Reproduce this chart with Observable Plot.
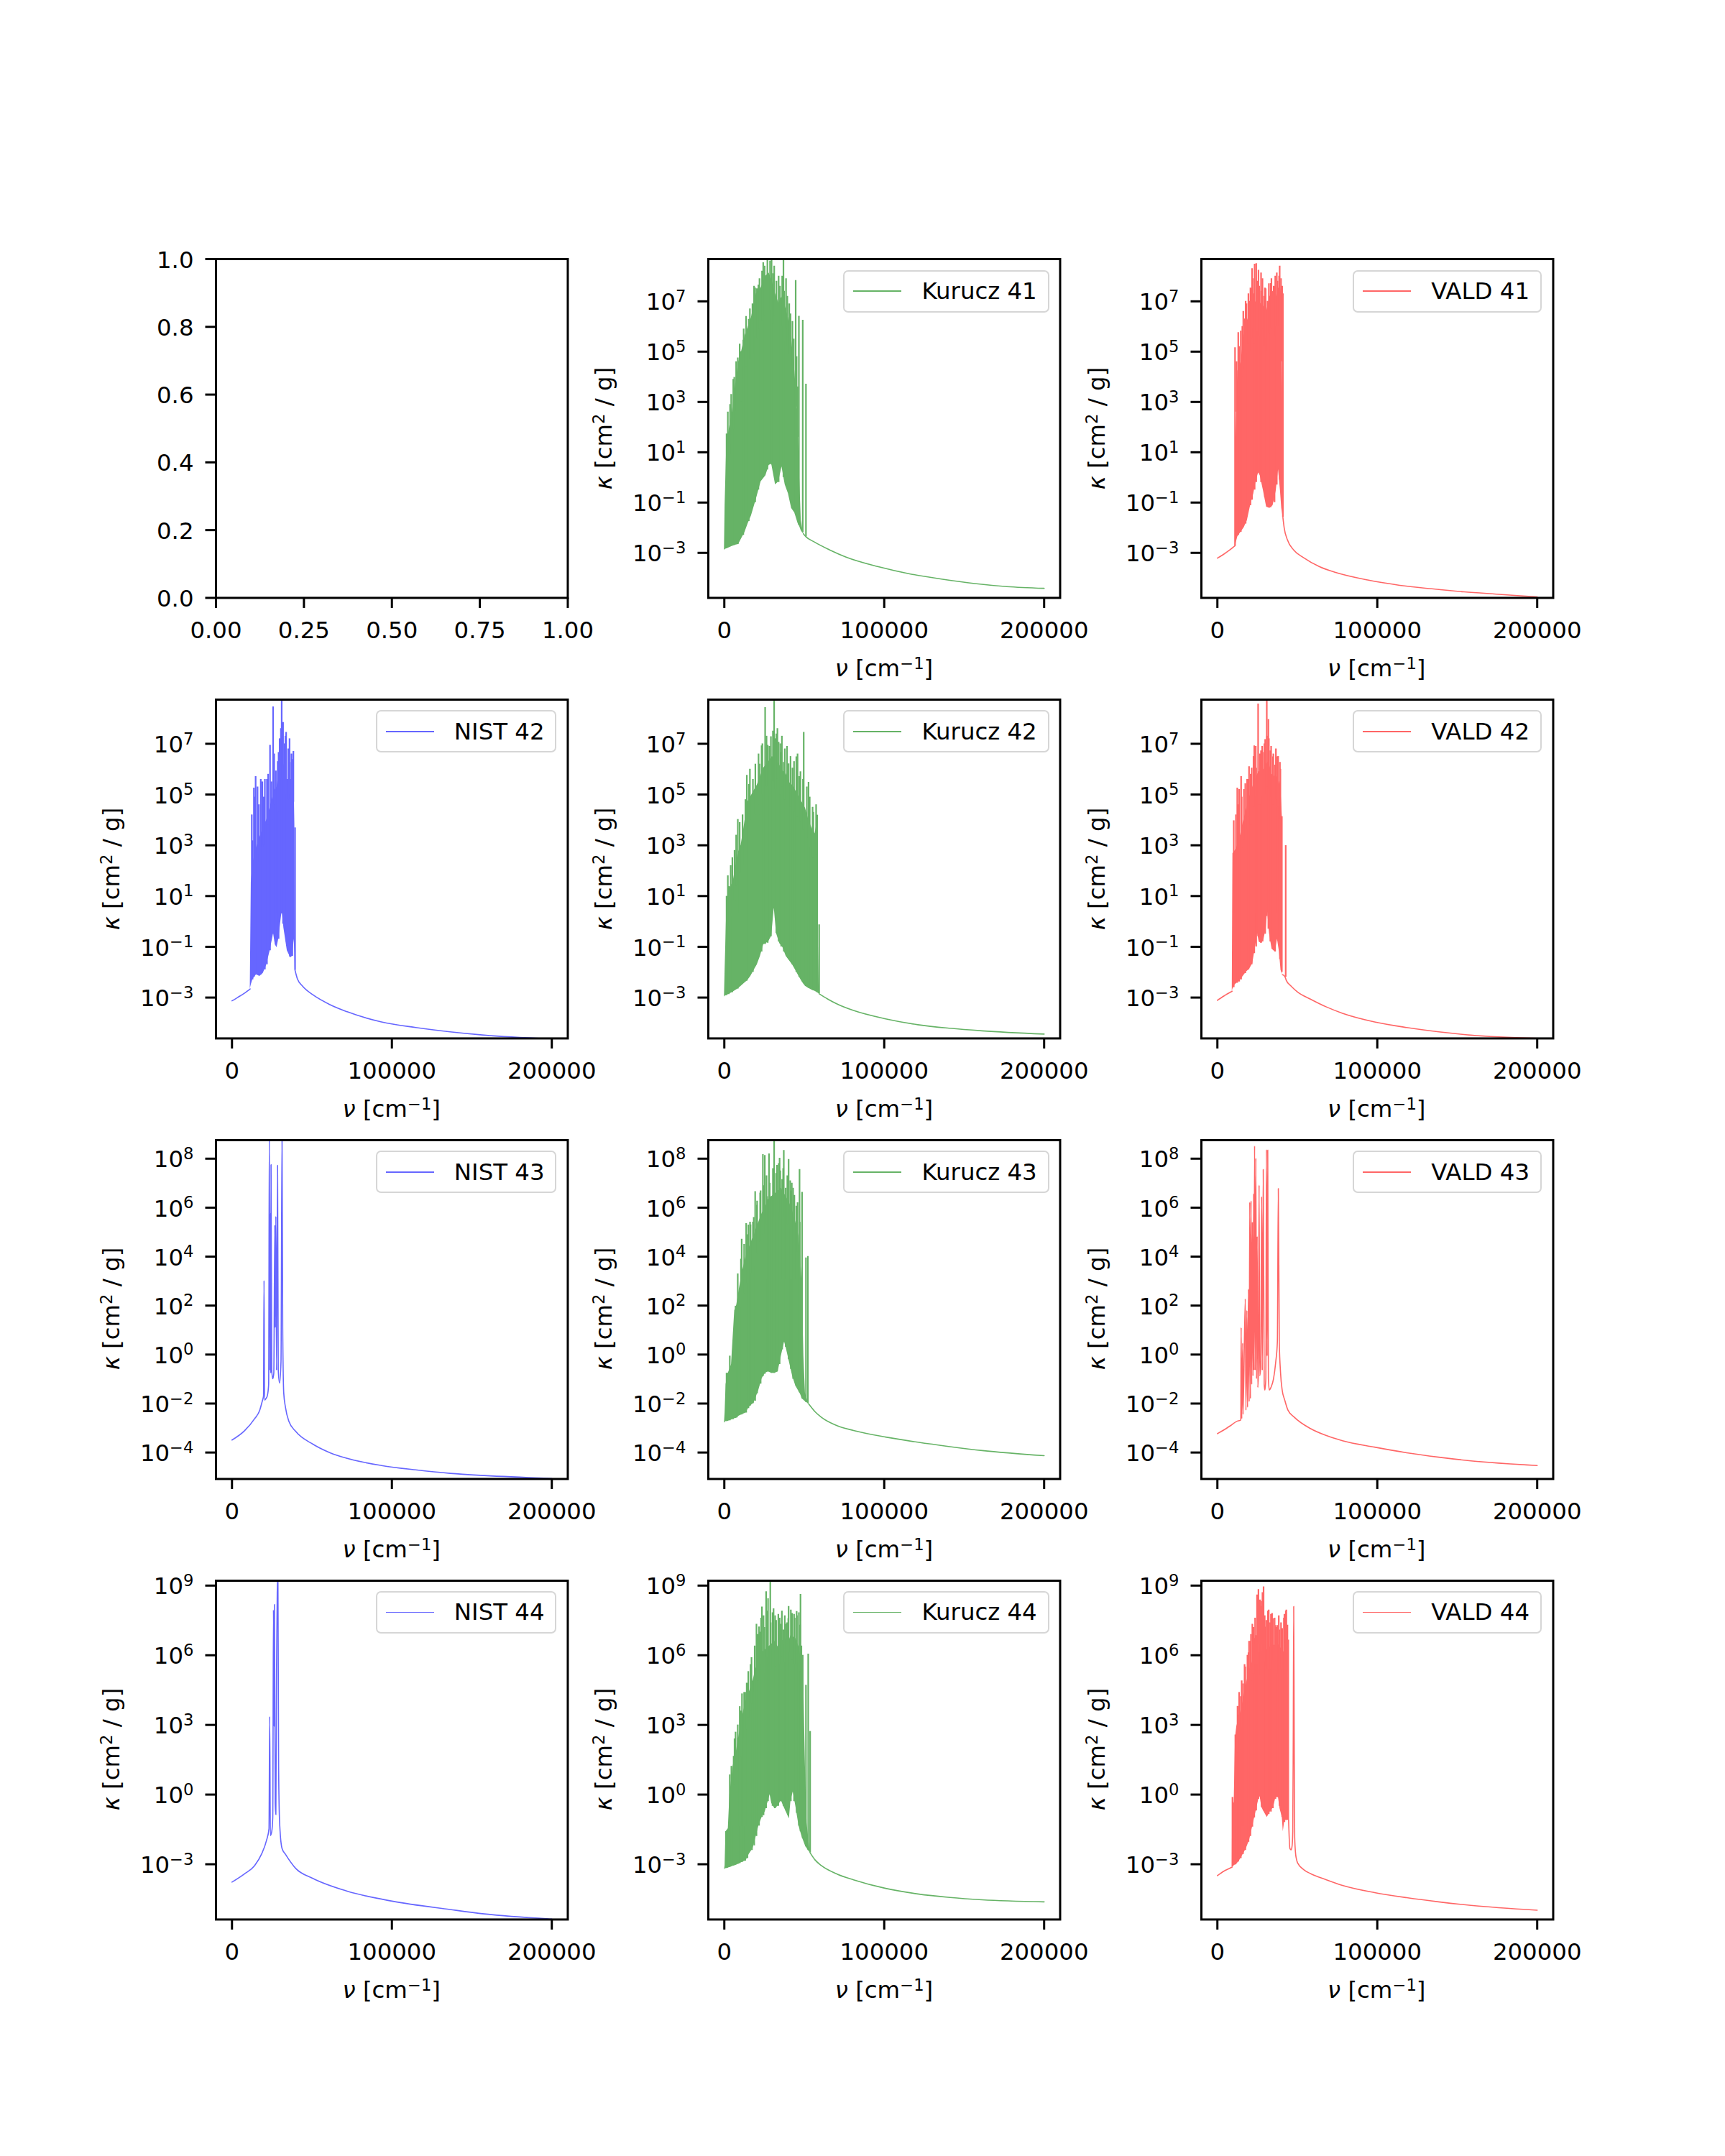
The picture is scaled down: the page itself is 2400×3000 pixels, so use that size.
<!DOCTYPE html>
<html><head><meta charset="utf-8">
<script src="https://cdn.jsdelivr.net/npm/d3@7"></script>
<script src="https://cdn.jsdelivr.net/npm/@observablehq/plot@0.6"></script>
<style>
html,body{margin:0;padding:0;background:#fff;}
#fig{position:relative;width:2400px;height:3000px;background:#fff;font-family:"DejaVu Sans";overflow:hidden;}
.lbl{position:absolute;white-space:nowrap;font-size:32.4px;line-height:1;color:#000;font-family:"DejaVu Sans";}
.lbl sup{font-size:70%;line-height:0;vertical-align:0.45em;}
.legend{position:absolute;box-sizing:border-box;height:59px;border:2.6px solid #d6d6d6;border-radius:7px;background:rgba(255,255,255,0.8);display:flex;align-items:center;padding:0 15px 0 12px;font-family:"DejaVu Sans";}
.legend .ln{width:67px;height:1.6px;margin-right:28px;}
.legend .tx{font-size:32.4px;line-height:1;color:#000;white-space:nowrap;}
</style></head>
<body><div id="fig"></div>
<script>
// ---------------- data (x in cm^-1, values are log10 of kappa in cm^2/g) ----------------
const xTicksNu = [0, 100000, 200000];
const emptyXTicks = [0, 0.25, 0.5, 0.75, 1];
const emptyYTicks = [0, 0.2, 0.4, 0.6, 0.8, 1];
const rowLogLimits = [[-4.79, 8.68], [-4.61, 8.74], [-5.08, 8.756], [-5.38, 9.21]];
const rowTickExp = [[-3,-1,1,3,5,7], [-3,-1,1,3,5,7], [-4,-2,0,2,4,6,8], [-3,0,3,6,9]];

// Kurucz 41
const k41BandX = [0,402,1407,2814,4824,6834,8844,10854,12864,14874,16884,19899,22914,25929,27939,29547,31959,33969,35979,37989,39999,42009,44019,46029,47034,48039,49446];
const k41BandLo = [-2.89,-2.87,-2.83,-2.80,-2.74,-2.69,-2.66,-2.42,-2.18,-1.83,-1.53,-0.88,-0.17,0.07,0.48,0.54,-0.29,-0.17,0.42,-0.29,-0.64,-1.23,-1.41,-1.83,-1.95,-2.12,-2.24];
const k41BandHi = [-2.89,-1.12,1.25,1.85,2.56,3.62,4.57,5.04,5.64,5.99,6.35,7.30,7.53,8.01,8.13,7.89,7.30,6.94,7.18,6.82,6.35,5.52,4.22,2.44,0.07,-1.71,-2.24];
const k41ContX = [49446,51054,56079,66129,76179,96279,116379,136479,156579,176679,200000];
const k41ContY = [-2.24,-2.36,-2.56,-2.89,-3.17,-3.55,-3.84,-4.05,-4.22,-4.34,-4.41];
const k41SpX = [1407,6231,8442,11859,15276,19296,21306,24321,26934,29547,33969,36984,44622,46632,49044,51054,
  2200,3600,4300,5600,7400,9600,10200,12100,13600,16000,17600,18600,20400,22000,23600,25200,28600,30400,31200,32600,34800,36200,37400,38600,39400,40600,41400,42600,43400,45200,45800];
const k41SpLo = [-2.83,-2.70,-2.66,-2.30,-1.75,-1.0,-0.5,0.0,0.3,0.5,-0.2,0.0,-1.5,-1.9,-2.2,-2.36,
  0.6,0.9,1.3,1.9,2.6,3.3,3.0,3.9,4.4,4.7,4.9,5.6,5.5,5.9,6.2,6.4,6.6,6.1,6.4,5.8,5.6,6.0,5.4,5.9,5.2,4.9,4.5,4.2,3.5,2.8,1.6];
const k41SpHi = [1.73,3.98,4.75,5.46,6.29,7.53,7.65,8.54,9.0,9.0,8.0,9.0,7.83,6.41,6.25,3.71,
  2.6,2.9,3.3,3.9,4.6,5.3,5.0,5.9,6.4,6.7,6.9,7.6,7.5,7.9,8.2,8.4,8.6,8.1,8.4,7.8,7.6,8.0,7.4,7.9,7.2,6.9,6.5,6.2,5.5,4.8,3.6];

// VALD 41
const v41ContLX = [0,3614,7630,11044];
const v41ContLY = [-3.21,-3.07,-2.89,-2.72];
const v41BandX = [11044,11446,12650,14658,16666,18674,20682,22690,24096,25702,26706,28714,30722,32730,34738,36746,38152,39357,40160,40762,40963];
const v41BandLo = [-2.72,-2.66,-2.36,-2.18,-2.00,-1.71,-1.12,-0.64,-0.17,0.19,0.07,-0.52,-1.18,-1.23,-1.12,-0.52,0.31,-0.52,-1.23,-1.47,-1.59];
const v41BandHi = [-2.72,1.25,4.22,4.57,5.64,6.23,6.59,6.82,7.0,7.18,6.94,6.82,6.59,7.18,7.41,7.18,7.53,7.53,7.30,3.62,-1.59];
const v41ContRX = [40963,41766,43774,47790,53814,63854,73894,93974,114054,134134,154214,174294,200000];
const v41ContRY = [-1.59,-2.0,-2.48,-2.89,-3.19,-3.55,-3.78,-4.08,-4.29,-4.43,-4.55,-4.64,-4.75];
const v41SpX = [11044,13052,14658,17670,20682,21686,23293,24297,25702,27309,29718,33333,35742,37148,38955,40963,
  12000,13600,15600,16200,17200,18200,19400,20200,21200,22200,23000,24800,26200,27400,28200,29200,30200,31400,32200,33800,35200,36200,37600,38600,39800,40500];
const v41SpLo = [-2.72,-2.3,-2.18,-1.85,-1.12,-0.9,-0.5,-0.2,0.19,-0.2,-0.8,-1.2,-1.0,-0.3,-0.1,-1.59,
  2.6,3.2,4.0,4.6,4.3,4.9,5.3,5.0,5.5,5.9,5.3,5.8,5.6,5.4,5.9,5.2,5.5,5.0,5.7,5.9,5.6,6.0,5.8,6.0,5.9,4.6];
const v41SpHi = [5.16,5.76,5.82,7.0,7.53,8.30,8.48,8.50,8.24,8.13,7.53,7.71,7.59,8.13,8.40,7.30,
  4.6,5.2,6.0,6.6,6.3,6.9,7.3,7.0,7.5,7.9,7.3,7.8,7.6,7.4,7.9,7.2,7.5,7.0,7.7,7.9,7.6,8.0,7.8,8.0,7.9,7.6];

// NIST 42
const n42ContLX = [0,3430,7718,11363];
const n42ContLY = [-3.13,-3.0,-2.83,-2.66];
const n42BandX = [11363,12006,13078,15222,17366,19510,21654,23798,25942,27014,28086,29158,30230,31302,32374,34518,36662,37734,38806,39235,39450];
const n42BandLo = [-2.66,-2.49,-2.27,-2.10,-2.16,-2.04,-1.71,-1.15,-0.47,-0.92,-1.03,-0.70,-0.13,0.43,-0.25,-1.15,-1.43,-1.37,-0.70,-1.26,-1.93];
const n42BandHi = [-2.66,1.55,2.3,2.9,3.3,3.7,4.0,4.5,5.0,5.2,5.3,5.8,6.3,6.5,6.2,5.6,5.6,5.6,5.5,3.80,-1.93];
const n42ContRX = [39450,40950,44166,50598,61318,72038,93478,114918,136358,157798,200000];
const n42ContRY = [-1.93,-2.27,-2.55,-2.89,-3.28,-3.56,-3.96,-4.18,-4.35,-4.48,-4.63];
const n42SpX = [12864,13722,14794,18010,20582,21869,23798,25728,27443,29158,31088,31946,33875,36234,37734,39450,
  12400,14200,16000,16800,19000,19900,22600,24600,26400,28600,29800,30600,32800,33400,35200,36000,37200,38400];
const n42SpLo = [-2.3,-2.2,-2.1,-2.1,-1.9,-1.7,-1.15,-0.5,-0.9,-0.7,0.3,-0.1,-0.8,-1.4,-1.37,-1.93,
  1.2,1.9,2.3,2.6,2.9,3.0,3.8,4.0,4.6,4.3,5.2,5.6,5.0,5.0,4.8,5.0,4.6,4.7];
const n42SpHi = [3.18,5.26,5.71,5.60,5.60,5.60,6.94,8.46,5.93,6.66,9.0,7.84,7.45,6.27,6.38,3.69,
  4.2,4.9,5.3,4.6,5.5,4.9,5.8,5.5,6.6,6.3,7.2,7.6,7.0,7.3,6.8,7.2,6.6,6.7];

// Kurucz 42
const k42BandX = [0,402,1407,3417,5427,8442,10452,12462,14472,16482,18492,20502,22512,24522,27537,29547,31155,32562,34572,36582,38592,40602,42612,44622,46632,48642,50652,52662,54672,56682,58290,58692,59295];
const k42BandLo = [-2.98,-2.94,-2.91,-2.85,-2.78,-2.66,-2.55,-2.44,-2.33,-2.16,-1.93,-1.71,-1.37,-0.92,-0.81,-0.58,0.54,-0.47,-0.87,-1.03,-1.37,-1.54,-1.71,-1.93,-2.16,-2.38,-2.55,-2.63,-2.70,-2.75,-2.81,-2.83,-2.85];
const k42BandHi = [-2.98,-1.93,0.43,1.33,1.55,2.67,3.01,3.80,4.70,4.92,5.15,5.37,5.71,6.04,6.27,6.49,6.49,6.38,6.16,5.93,5.82,5.48,5.37,5.15,4.92,4.70,4.47,4.02,3.69,3.46,4.02,-0.70,-2.85];
const k42ContX = [59295,64722,70752,80802,100902,121002,141102,161202,200000];
const k42ContY = [-2.85,-3.06,-3.26,-3.51,-3.84,-4.07,-4.21,-4.31,-4.44];
const k42SpX = [1407,2814,5025,8442,14070,17889,23316,25527,27135,29145,31155,32562,33969,35577,37185,40200,42612,45024,46833,49647,52662,55677,58089,59295,
  2200,4000,6400,7400,9600,11400,13200,15400,16000,19400,21400,22000,23800,26400,28200,30400,32000,33200,35000,36000,37800,39200,41400,43600,45800,47600,49200,51600,53400,55200,57400];
const k42SpLo = [-2.91,-2.88,-2.8,-2.66,-2.35,-2.0,-1.2,-0.9,-0.85,-0.6,0.5,-0.47,-0.8,-1.0,-1.2,-1.5,-1.71,-2.0,-2.2,-2.45,-2.63,-2.72,-2.8,-2.85,
  -0.2,0.2,0.8,1.4,1.9,2.2,2.8,3.4,4.0,4.2,4.6,4.2,5.0,5.3,4.9,5.5,5.2,5.6,5.0,5.3,4.8,4.9,4.5,4.3,4.1,3.9,3.6,3.3,2.9,2.5,2.6];
const k42SpHi = [0.99,1.38,2.51,4.02,5.76,5.60,6.92,8.43,6.94,7.28,9.0,7.39,7.06,6.66,6.27,6.21,6.04,6.49,5.71,7.45,5.48,4.30,4.19,-0.13,
  1.8,2.2,2.8,3.4,3.9,4.2,4.8,5.4,6.0,6.2,6.6,6.2,7.0,7.3,6.9,7.5,7.2,7.6,7.0,7.3,6.8,6.9,6.5,6.3,6.6,5.9,5.6,5.3,4.9,4.5,4.6];

// VALD 42
const v42ContLX = [0,4012,9228];
const v42ContLY = [-3.11,-2.94,-2.75];
const v42BandX = [9228,9629,11033,12036,14042,16048,18054,20060,22066,23069,25075,26078,27683,29087,30491,31294,32497,34102,36108,37512,38716,39719,40521,40722];
const v42BandLo = [-2.75,-2.66,-2.49,-2.44,-2.33,-2.16,-1.99,-1.88,-1.65,-1.26,-0.47,-0.81,-0.87,-0.70,-0.25,0.43,-0.47,-1.09,-1.20,-0.70,-1.20,-1.93,-2.04,-2.10];
const v42BandHi = [-2.75,2.67,2.79,2.90,3.3,3.9,4.4,4.9,5.3,5.5,5.8,5.9,5.9,6.0,6.2,6.3,6.2,5.8,5.7,5.7,5.5,5.15,4.13,-2.10];
const v42ContRX = [40722,42126,43129,46138,50150,58174,68204,78234,98294,118354,138414,158474,200000];
const v42ContRY = [-2.10,-2.16,-2.33,-2.55,-2.78,-3.06,-3.37,-3.62,-3.96,-4.18,-4.35,-4.48,-4.61];
const v42SpX = [10231,12437,13641,14844,17452,19458,21464,23069,24273,25476,27282,28285,29889,30892,31895,33099,34704,36108,37512,39117,40321,42728,
  11600,13000,15200,16600,18600,19800,20800,22600,24000,26600,28000,29400,31000,32200,33600,35000,36600,38000,39400];
const v42SpLo = [-2.6,-2.43,-2.38,-2.3,-2.05,-1.9,-1.7,-1.26,-1.0,-0.6,-0.85,-0.8,-0.5,0.2,-0.3,-0.8,-1.1,-1.2,-0.7,-1.5,-2.0,-2.2,
  2.2,2.6,2.9,3.2,3.6,4.1,3.8,4.5,4.9,4.6,4.9,5.0,5.3,5.2,4.9,4.6,4.8,4.5,4.0];
const v42SpHi = [3.97,5.26,5.20,5.71,5.43,5.60,6.04,6.92,6.04,8.57,6.72,6.66,7.17,9.0,7.96,6.72,6.49,6.16,6.49,6.27,4.13,2.99,
  4.2,4.6,4.9,5.2,5.6,6.1,5.8,6.5,6.9,6.6,6.9,7.0,7.3,7.2,6.9,6.6,6.8,6.5,6.0];

// NIST 43
const n43X = [0,7718,14150,17366,18867,19725,20046,20368,21226,22083,22941,23370,23798,24013,24227,24442,24870,25514,26157,26800,27014,27443,27872,28515,28944,29802,30659,31302,31731,32374,33446,35590,39878,50598,61318,72038,93478,114918,136358,157798,200000];
const n43Y = [-3.49,-3.12,-2.62,-2.27,-1.92,-1.69,3.02,-1.86,-1.80,-1.69,-1.22,9.0,-0.64,5.76,-0.76,7.76,-0.64,-0.99,-0.76,5.29,1.10,5.64,-0.64,7.73,-0.64,-1.16,-0.29,9.0,1.10,-1.57,-2.15,-2.73,-3.14,-3.66,-4.01,-4.24,-4.53,-4.71,-4.85,-4.94,-5.06];

// Kurucz 43
const k43BandX = [0,402,1005,2412,4422,6432,7437,9447,11457,13467,15477,17487,18492,19497,21507,23517,25527,27537,29547,31557,33567,35577,37587,38592,40602,42612,44622,46632,47637,48642,49647,50652,52662];
const k43BandLo = [-2.79,-2.77,-2.73,-2.71,-2.67,-2.62,-2.59,-2.50,-2.44,-2.38,-2.15,-2.03,-1.98,-1.80,-1.45,-0.99,-0.76,-0.70,-0.76,-0.76,-0.70,-0.06,0.52,0.29,-0.29,-0.87,-1.28,-1.51,-1.63,-1.80,-1.86,-1.92,-2.01];
const k43BandHi = [-2.79,-2.38,-1.22,-0.76,-0.41,1.80,1.92,2.73,3.43,4.01,4.36,4.71,4.83,5.06,5.41,5.76,5.99,6.34,6.45,6.57,6.69,6.80,6.57,6.45,6.22,5.87,5.41,4.83,4.01,2.85,-0.06,-1.57,-2.01];
const k43ContX = [52662,56682,60702,70752,80802,100902,121002,141102,161202,200000];
const k43ContY = [-2.01,-2.33,-2.56,-2.91,-3.10,-3.37,-3.58,-3.76,-3.92,-4.13];
const k43SpX = [1407,2010,3417,5427,7035,7839,10854,13668,15075,16080,17889,19296,20502,22713,24120,25326,26733,27939,29547,31155,32964,34572,36180,37185,38391,40200,41607,43014,45024,47034,48642,51054,52260,
  8400,10400,12400,14400,16400,18400,20400,22400,24400,26400,28400,30400,32400,34000,35000,36800,39400,41200,42200,43800,45800,47200];
const k43SpLo = [-2.73,-2.72,-2.70,-2.65,-2.60,-2.58,-2.46,-2.38,-2.2,-2.1,-2.0,-1.9,-1.6,-1.2,-0.9,-0.8,-0.7,-0.7,-0.76,-0.76,-0.7,-0.4,0.2,0.5,0.3,-0.2,-0.6,-1.0,-1.3,-1.55,-1.80,-1.95,-2.0,
  1.3,1.9,2.5,2.9,3.3,3.6,4.1,4.6,4.9,5.3,5.0,5.6,5.4,5.8,5.5,5.6,5.3,5.1,5.0,4.5,4.2,3.4];
const k43SpHi = [-0.76,-0.76,-0.06,0.17,1.98,2.01,4.71,5.35,5.29,5.41,5.41,6.66,6.27,6.69,8.17,8.13,6.45,8.20,6.45,9.0,7.73,8.02,7.15,8.34,6.80,7.97,6.69,6.80,6.06,7.56,6.63,3.95,4.01,
  3.3,3.9,4.5,4.9,5.3,5.6,6.1,6.6,6.9,7.3,7.0,7.6,7.4,7.8,7.5,7.6,7.3,7.1,7.0,6.5,6.2,5.4];

// VALD 43
const v43X = [0,4012,8024,12036,14644,14844,15246,15847,16048,17452,17853,18455,18856,19458,19859,20261,20662,21063,21464,21865,22267,22668,22868,23270,23670,24072,24473,24874,25276,25677,26078,26479,27081,27683,28084,28686,29287,29689,30291,30692,31093,31494,31895,32497,33500,35105,36509,37512,38114,38716,39518,40521,42126,44132,48144,58174,68204,78234,98294,118354,138414,158474,200000];
const v43Y = [-3.23,-3.08,-2.91,-2.73,-2.67,1.10,-2.62,0.47,-2.44,2.27,-2.27,1.80,-2.15,2.67,-1.92,6.22,-1.80,6.28,-1.22,5.41,-0.87,6.57,-0.64,8.52,-0.64,8.02,-0.99,4.83,-1.34,-0.64,6.92,-0.87,-0.52,6.45,-0.64,7.56,-1.22,-1.45,-0.99,8.37,-0.06,8.35,-0.99,-1.45,-1.34,-0.99,-0.29,0.52,6.78,0.52,-0.76,-1.45,-1.86,-2.27,-2.56,-3.02,-3.31,-3.52,-3.78,-4.01,-4.19,-4.34,-4.53];

// NIST 44
const n44X = [0,7718,14150,18438,21654,23155,23584,24013,24870,25514,25942,26371,26586,27014,27443,27872,28301,28730,29158,29802,31302,33446,39878,50598,72038,100125,136358,157798,200000];
const n44Y = [-3.77,-3.42,-3.06,-2.57,-1.96,-1.47,3.36,-1.77,-1.59,-0.98,7.95,2.93,8.19,-0.37,-0.86,5.38,8.68,9.5,1.22,-1.22,-2.32,-2.57,-3.18,-3.61,-4.16,-4.59,-4.95,-5.14,-5.36];

// Kurucz 44
const k44BandX = [0,402,1005,2412,3417,5427,7437,9447,11457,13467,15477,17889,19497,21507,23517,25527,27537,28542,29547,31557,33567,35577,36984,38592,40602,41607,43014,44622,46632,48642,49647,50652,51657,53667];
const k44BandLo = [-3.24,-3.20,-3.18,-3.16,-3.13,-3.08,-3.03,-2.97,-2.90,-2.85,-2.57,-2.32,-1.90,-1.35,-0.98,-0.73,-0.25,0.0,-0.37,-0.61,-0.49,-0.25,-0.49,-0.73,-1.04,-0.25,0.12,-0.49,-1.35,-1.84,-2.02,-2.20,-2.32,-2.51];
const k44BandHi = [-3.24,-3.06,-1.59,-1.47,0.0,1.22,1.83,2.69,3.42,4.03,4.40,4.89,5.38,5.75,6.11,6.24,6.36,6.42,6.48,6.60,6.36,6.60,6.66,6.73,6.66,6.85,6.79,6.73,6.36,5.63,4.65,1.22,-1.22,-2.51];
const k44ContX = [53667,56682,60702,70752,80802,100902,121002,141102,161202,200000];
const k44ContY = [-2.51,-2.81,-3.06,-3.43,-3.67,-4.04,-4.28,-4.43,-4.53,-4.62];
const k44SpX = [1005,1608,3417,4422,5829,7035,8442,9648,11055,13065,14472,17286,18693,20100,21708,23517,24522,26130,27336,28743,30150,31758,33768,35175,36984,38592,39999,41607,43617,45225,46632,47637,49044,51054,52461,53667,
  6400,8400,10400,12400,14000,15000,16400,17000,19000,20800,22400,23000,25000,26600,29000,30800,32400,34600,36000,37800,39200,40200,42400,44000,45400,47400,48200];
const k44SpLo = [-3.18,-3.17,-3.13,-3.1,-3.07,-3.04,-3.0,-2.97,-2.92,-2.86,-2.75,-2.4,-2.2,-1.8,-1.35,-0.98,-0.9,-0.6,-0.3,0.0,-0.5,-0.6,-0.5,-0.3,-0.5,-0.7,-0.9,-0.3,-0.3,-0.8,-1.35,-1.6,-1.9,-2.25,-2.4,-2.51,
  0.4,1.0,1.6,2.4,2.8,3.3,3.6,3.9,4.4,4.9,5.0,5.6,5.2,5.9,5.4,6.0,5.5,5.6,5.9,5.7,5.4,6.1,5.8,5.6,5.7,5.3,4.4];
const k44SpHi = [-1.59,-1.57,0.85,1.22,1.65,2.69,2.44,3.79,4.34,4.40,3.91,4.89,4.95,7.34,7.22,8.08,7.70,8.74,8.44,9.5,7.83,7.70,7.76,7.34,7.09,7.34,7.58,7.95,7.76,7.89,7.83,8.62,6.0,4.71,6.05,2.72,
  2.4,3.0,3.6,4.4,4.8,5.3,5.6,5.9,6.4,6.9,7.0,7.6,7.2,7.9,7.4,8.0,7.5,7.6,7.9,7.7,7.4,8.1,7.8,7.6,7.7,7.3,6.4];

// VALD 44
const v44ContLX = [0,4012,9228];
const v44ContLY = [-3.49,-3.30,-3.12];
const v44BandX = [9228,9428,10431,11234,12036,14042,16048,18054,20060,22066,24072,26078,26479,27683,29087,31093,33099,35105,36509,38114,39117,40521,41123,42126,43530,44333,44533];
const v44BandLo = [-3.12,-3.11,-3.06,-3.02,-3.0,-2.81,-2.57,-2.32,-1.96,-1.35,-0.73,-0.12,0.0,-0.55,-0.73,-0.98,-0.73,-0.55,-0.12,-0.12,-0.61,-0.98,-1.59,-1.10,-1.10,-1.10,-1.10];
const v44BandHi = [-3.12,-0.25,-0.37,2.44,2.93,3.42,4.03,4.77,5.38,5.75,5.99,6.11,6.11,6.18,6.24,6.24,6.36,6.48,6.36,6.48,6.36,6.24,6.18,6.11,6.11,5.99,-1.10];
const v44TailX = [44533,45336,46138,46740,47141,47442,47743,48043,48345,48946,49348,50150,54162,58174,68204,78234,98294,118354,138414,158474,200000];
const v44TailY = [-1.10,-2.32,-2.38,-2.20,-1.59,2.44,8.10,2.44,-1.84,-2.57,-2.75,-2.94,-3.24,-3.40,-3.67,-3.91,-4.22,-4.44,-4.62,-4.77,-4.98];
const v44SpX = [9428,11234,13039,14644,16048,17452,19458,20662,21865,23069,24273,25677,26680,27683,28886,30090,32096,33500,34704,36309,37512,38916,40521,41925,43129,44333,
  12600,13600,15200,17000,18800,19800,21000,22600,23600,24800,27000,28200,29600,30600,31600,33000,34200,35800,37000,38400,39800,41600,42800,43800];
const v44SpLo = [-3.11,-3.02,-2.9,-2.75,-2.57,-2.4,-2.05,-1.8,-1.4,-1.0,-0.7,-0.2,-0.1,-0.55,-0.7,-0.8,-0.85,-0.75,-0.6,-0.2,-0.12,-0.5,-0.98,-1.2,-1.1,-1.1,
  1.8,2.4,2.9,3.6,4.0,4.6,4.9,5.2,5.6,5.6,5.1,5.7,5.7,5.5,5.4,5.4,5.8,5.6,5.2,5.7,5.4,5.6,5.4,5.3];
const v44SpHi = [-0.12,2.57,3.43,4.22,4.77,5.50,6.11,6.60,7.34,6.73,6.85,8.83,8.38,8.32,8.95,7.21,7.95,7.76,7.58,7.28,7.28,7.09,7.15,7.76,7.95,6.66,
  3.8,4.4,4.9,5.6,6.0,6.6,6.9,7.2,7.6,8.6,8.1,8.7,7.7,7.5,7.9,7.4,7.8,7.6,7.2,7.7,7.4,7.6,7.9,7.3];

// ---------------- layout & style ----------------
const GREEN = "#66b366", BLUE = "#6666ff", RED = "#ff6666";
const COLX = [300, 985.26, 1670.53], ROWY = [360, 972.86, 1585.71, 2198.57];
const PW = 489.47, PH = 471.43;
const ML = 200, MR = 30, MT = 20, MB = 140;
const FS = 32.4;
const SVGNS = "http://www.w3.org/2000/svg";

const band = (x, lo, hi) => x.map((v, i) => ({x: v, lo: 10 ** lo[i], hi: 10 ** hi[i]}));
const pts = (x, y, seg) => x.map((v, i) => ({x: v, y: 10 ** y[i], seg}));

const panels = [
  {row: 0, col: 0, empty: true},
  {row: 0, col: 1, label: "Kurucz 41", color: GREEN, band: band(k41BandX, k41BandLo, k41BandHi), spikes: band(k41SpX, k41SpLo, k41SpHi), lines: pts(k41ContX, k41ContY, "c")},
  {row: 0, col: 2, label: "VALD 41", color: RED, band: band(v41BandX, v41BandLo, v41BandHi), spikes: band(v41SpX, v41SpLo, v41SpHi), lines: pts(v41ContLX, v41ContLY, "l").concat(pts(v41ContRX, v41ContRY, "r"))},
  {row: 1, col: 0, label: "NIST 42", color: BLUE, band: band(n42BandX, n42BandLo, n42BandHi), spikes: band(n42SpX, n42SpLo, n42SpHi), lines: pts(n42ContLX, n42ContLY, "l").concat(pts(n42ContRX, n42ContRY, "r"))},
  {row: 1, col: 1, label: "Kurucz 42", color: GREEN, band: band(k42BandX, k42BandLo, k42BandHi), spikes: band(k42SpX, k42SpLo, k42SpHi), lines: pts(k42ContX, k42ContY, "c")},
  {row: 1, col: 2, label: "VALD 42", color: RED, band: band(v42BandX, v42BandLo, v42BandHi), spikes: band(v42SpX, v42SpLo, v42SpHi), lines: pts(v42ContLX, v42ContLY, "l").concat(pts(v42ContRX, v42ContRY, "r"))},
  {row: 2, col: 0, label: "NIST 43", color: BLUE, lines: pts(n43X, n43Y, "s")},
  {row: 2, col: 1, label: "Kurucz 43", color: GREEN, band: band(k43BandX, k43BandLo, k43BandHi), spikes: band(k43SpX, k43SpLo, k43SpHi), lines: pts(k43ContX, k43ContY, "c")},
  {row: 2, col: 2, label: "VALD 43", color: RED, lines: pts(v43X, v43Y, "s")},
  {row: 3, col: 0, label: "NIST 44", color: BLUE, lines: pts(n44X, n44Y, "s")},
  {row: 3, col: 1, label: "Kurucz 44", color: GREEN, band: band(k44BandX, k44BandLo, k44BandHi), spikes: band(k44SpX, k44SpLo, k44SpHi), lines: pts(k44ContX, k44ContY, "c")},
  {row: 3, col: 2, label: "VALD 44", color: RED, band: band(v44BandX, v44BandLo, v44BandHi), spikes: band(v44SpX, v44SpLo, v44SpHi), lines: pts(v44ContLX, v44ContLY, "l").concat(pts(v44TailX, v44TailY, "r"))}
];

const fig = document.getElementById("fig");

function addYLabel(svg, y, base, sup) {
  const t = document.createElementNS(SVGNS, "text");
  t.setAttribute("x", ML - 30.5);
  t.setAttribute("y", y + 12.6);
  t.setAttribute("text-anchor", "end");
  t.setAttribute("font-family", "DejaVu Sans");
  t.setAttribute("font-size", FS);
  t.setAttribute("fill", "#000");
  t.appendChild(document.createTextNode(base));
  if (sup != null) {
    const s = document.createElementNS(SVGNS, "tspan");
    s.setAttribute("font-size", FS * 0.7);
    s.setAttribute("dy", -11.5);
    s.textContent = sup;
    t.appendChild(s);
  }
  svg.appendChild(t);
}

for (const p of panels) {
  const left = COLX[p.col], top = ROWY[p.row];
  const marks = [];
  if (p.band) marks.push(Plot.areaY(p.band, {x: "x", y1: "lo", y2: "hi", fill: p.color, curve: "linear", clip: true}));
  if (p.spikes) marks.push(Plot.ruleX(p.spikes, {x: "x", y1: "lo", y2: "hi", stroke: p.color, strokeWidth: 2.2, clip: true}));
  if (p.lines) marks.push(Plot.line(p.lines, {x: "x", y: "y", z: "seg", stroke: p.color, strokeWidth: 1.6, curve: "monotone-x", clip: true}));
  marks.push(Plot.frame({stroke: "#000", strokeWidth: 3}));
  const yTickVals = p.empty ? emptyYTicks : rowTickExp[p.row].map(e => 10 ** e);
  marks.push(Plot.axisX({
    ticks: p.empty ? emptyXTicks : xTicksNu,
    tickFormat: p.empty ? d3.format(".2f") : (d => String(d)),
    tickSize: 14.5, tickPadding: 18.5, strokeWidth: 3, fontSize: FS, label: null
  }));
  marks.push(Plot.axisY({ticks: yTickVals, tickFormat: () => "", tickSize: 14.5, strokeWidth: 3, label: null}));
  const lim = rowLogLimits[p.row];
  const svg = Plot.plot({
    width: ML + PW + MR, height: MT + PH + MB,
    marginLeft: ML, marginRight: MR, marginTop: MT, marginBottom: MB,
    style: {fontFamily: "DejaVu Sans", fontSize: FS + "px", background: "transparent", overflow: "visible"},
    x: {domain: p.empty ? [0, 1] : [-10000, 210000], label: null},
    y: p.empty ? {domain: [0, 1], label: null} : {type: "log", domain: [10 ** lim[0], 10 ** lim[1]], label: null},
    marks
  });
  svg.style.position = "absolute";
  svg.style.left = (left - ML) + "px";
  svg.style.top = (top - MT) + "px";
  svg.style.width = (ML + PW + MR) + "px";
  svg.style.height = (MT + PH + MB) + "px";
  svg.style.maxWidth = "none";
  fig.appendChild(svg);

  const ys = svg.scale("y");
  if (p.empty) {
    for (const v of emptyYTicks) addYLabel(svg, ys.apply(v), d3.format(".1f")(v), null);
  } else {
    for (const e of rowTickExp[p.row]) addYLabel(svg, ys.apply(10 ** e), "10", e < 0 ? "\u2212" + Math.abs(e) : String(e));
    const yl = document.createElement("div");
    yl.className = "lbl";
    yl.style.left = (left - 145) + "px";
    yl.style.top = (top + PH / 2) + "px";
    yl.style.transform = "translate(-50%,-50%) rotate(-90deg)";
    yl.innerHTML = "<i>\u03ba</i> [cm<sup>2</sup> / g]";
    fig.appendChild(yl);
    const xl = document.createElement("div");
    xl.className = "lbl";
    xl.style.left = (left + PW / 2) + "px";
    xl.style.top = (top + PH + 99) + "px";
    xl.style.transform = "translate(-50%,-50%)";
    xl.innerHTML = "<i>\u03bd</i> [cm<sup>\u22121</sup>]";
    fig.appendChild(xl);
    const lg = document.createElement("div");
    lg.className = "legend";
    lg.style.right = (2400 - (left + PW) + 15) + "px";
    lg.style.top = (top + 15.5) + "px";
    lg.innerHTML = `<div class="ln" style="background:${p.color}"></div><span class="tx">${p.label}</span>`;
    fig.appendChild(lg);
  }
}
</script>
</body></html>
